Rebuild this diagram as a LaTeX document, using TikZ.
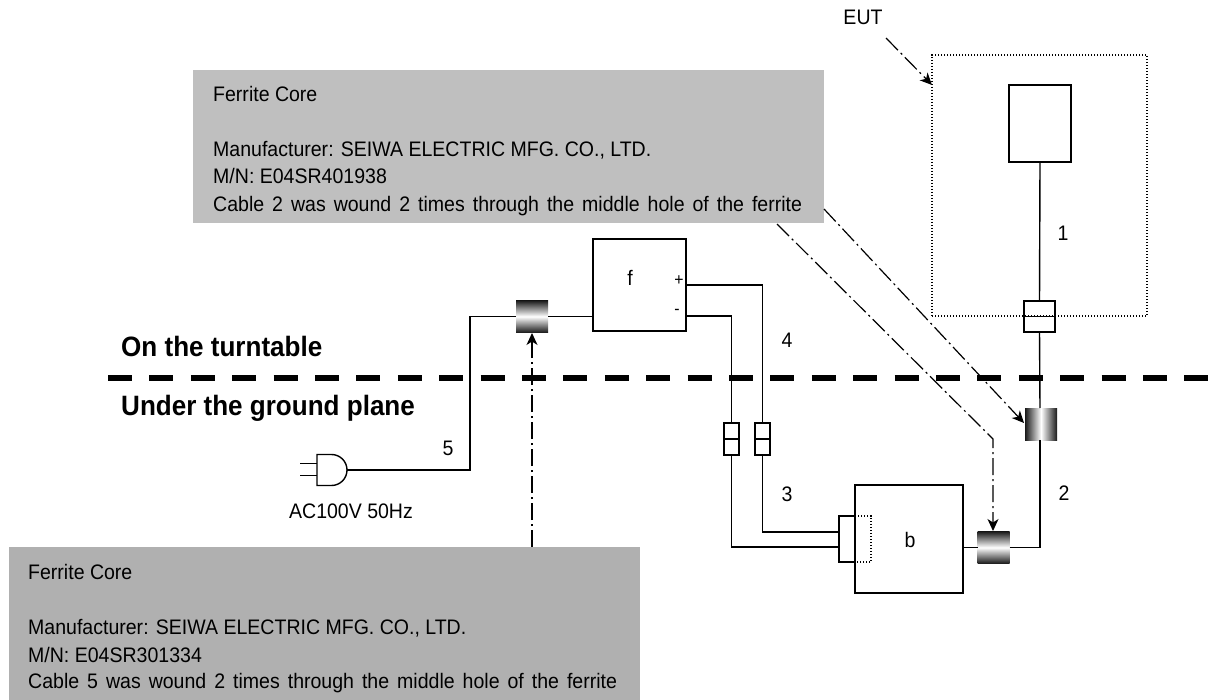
\documentclass[tikz,border=0pt]{standalone}
\usepackage{fontspec}
\setmainfont[FakeStretch=0.93]{Liberation Sans}
\usetikzlibrary{arrows.meta,shadings}
\pgfdeclarehorizontalshading{ferh}{100bp}{color(0bp)=(black!90);color(25bp)=(black!90);color(50bp)=(white);color(75bp)=(black!90);color(100bp)=(black!90)}
\pgfdeclareverticalshading{ferv}{100bp}{color(0bp)=(black!90);color(25bp)=(black!90);color(50bp)=(white);color(75bp)=(black!90);color(100bp)=(black!90)}
\definecolor{grayA}{HTML}{BFBFBF}
\definecolor{grayB}{HTML}{B0B0B0}
\tikzset{
 x=1pt,y=-1pt,
 wire/.style={line width=1.4pt},
 dots/.style={line width=1.4pt,dash pattern=on 1.4pt off 1.6pt},
 box/.style={draw,line width=1.4pt,inner sep=0pt,outer sep=0pt,minimum width=#1},
 lbl/.style={inner sep=0pt,font=\fontsize{21}{21}\selectfont},
 note/.style={inner sep=0pt,anchor=base west,font=\fontsize{21}{21}\selectfont},
 wide/.style={note,execute at begin node={\spaceskip=8pt\relax}},
 head/.style={inner sep=0pt,anchor=base west,font=\fontsize{28}{28}\selectfont\bfseries},
 ptr/.style={line width=1.2pt,dash pattern=on 17pt off 4pt on 2pt off 4pt,-{Stealth[length=12pt,width=11pt,inset=3.5pt]}},
 ferrite/.style={inner sep=0pt,outer sep=0pt,minimum width=32pt,minimum height=32pt,shading=#1},
}
\begin{document}
\begin{tikzpicture}
\useasboundingbox (0,0) rectangle (1215,700);
% grey panels
\node[fill=grayA,inner sep=0pt,minimum width=631pt,minimum height=153pt] (noteA) at (508.5,146.5) {};
\node[fill=grayB,inner sep=0pt,minimum width=631pt,minimum height=153pt] (noteB) at (324.5,623.5) {};
\node[note] (a1) at (213,102) {Ferrite Core};
\node[note] (a2) at (213,157) {Manufacturer: SEIWA ELECTRIC MFG. CO., LTD.};
\node[note] (a3) at (213,184) {M/N: E04SR401938};
\node[wide] (a4) at (213,212) {Cable 2 was wound 2 times through the middle hole of the ferrite};
\node[note] (b1) at (28,579) {Ferrite Core};
\node[note] (b2) at (28,634) {Manufacturer: SEIWA ELECTRIC MFG. CO., LTD.};
\node[note] (b3) at (28,662) {M/N: E04SR301334};
\node[wide] (b4) at (28,688) {Cable 5 was wound 2 times through the middle hole of the ferrite};
% EUT
\node[draw,dots,inner sep=0pt,outer sep=0pt,minimum width=215pt,minimum height=261pt] (eut) at (1039.5,185.5) {};
\node[box=62pt,minimum height=77pt] (unit) at (1040,123.5) {};
\node[box=31pt,minimum height=31pt] (c1) at (1039.5,316.5) {};
\draw[line width=1.4pt] (c1.west) -- (c1.east);
% ferrites
\node[ferrite=ferh] (f2) at (1041,424) {};
\node[ferrite=ferv] (f3) at (993.5,547.5) {};
\node[ferrite=ferv] (f5) at (532,316.5) {};
% equipment
\node[box=93pt,minimum height=92pt] (fbox) at (639.5,285) {};
\node[box=108pt,minimum height=108pt] (bbox) at (909,539) {};
\node[box=16pt,minimum height=46pt] (bplug) at (847,539) {};
\draw[dots] (bplug.north east) -- (871,516) -- (871,562) -- (bplug.south east);
% connectors 3 and 4
\node[box=15pt,minimum height=32pt] (c3) at (731.5,439) {};
\node[box=15pt,minimum height=32pt] (c4) at (762.5,439) {};
\draw[line width=1.4pt] (c3.west) -- (c3.east);
\draw[line width=1.4pt] (c4.west) -- (c4.east);
% wires
\coordinate (plugTail) at (347,470);
\draw[wire] (plugTail) -- (470,470) -- (470,316.5) -- (f5.west);
\draw[wire] (f5.east) -- (fbox.west |- f5.east);
\coordinate (fplus) at (686,285);
\coordinate (fminus) at (686,316);
\draw[wire] (fplus) -- (762.5,285) -- (c4.north);
\draw[wire] (fminus) -- (731.5,316) -- (c3.north);
\coordinate (bin3) at (839,532);
\coordinate (bin4) at (839,547);
\draw[wire] (c4.south) -- (762.5,532) -- (bin3);
\draw[wire] (c3.south) -- (731.5,547) -- (bin4);
\draw[wire] (bbox.east |- f3.west) -- (f3.west);
\coordinate (f2s) at (1040,440);
\coordinate (f2n) at (1040,408);
\draw[wire] (f3.east) -- (1040,547.5) -- (f2s);
\draw[wire] (f2n) -- (c1.south);
\draw[wire] (c1.north) -- (unit.south);
% plug
\draw[line width=1.4pt] (347,470) arc[start angle=0,end angle=-90,radius=15.5] -- (317,454.5) -- (317,485.5) -- (331.5,485.5) arc[start angle=90,end angle=0,radius=15.5];
\draw[wire] (317,463.5) -- (300,463.5) (317,475.5) -- (300,475.5);
% ground line
\coordinate (gl) at (108,378);
\coordinate (gr) at (1212,378);
\draw[line width=5.2pt,dash pattern=on 24pt off 17.4pt] (gl) -- (gr);
% pointers
\coordinate (eutFrom) at (886,38);
\coordinate (eutTip) at (932,85);
\draw[ptr] (eutFrom) -- (eutTip);
\coordinate (pAfrom) at (824,209);
\coordinate (pAtip) at (1024,423);
\draw[ptr] (pAfrom) -- (pAtip);
\coordinate (pBfrom) at (777,224);
\coordinate (pBbend) at (993,439);
\coordinate (pBtip) at (993,531);
\draw[ptr] (pBfrom) -- (pBbend) -- (pBtip);
\coordinate (pCfrom) at (532,547);
\coordinate (pCtip) at (532,333);
\draw[ptr] (pCfrom) -- (pCtip);
% labels
\node[lbl] (l1) at (1063,233) {1};
\node[lbl] (l2) at (1064,493) {2};
\node[lbl] (l3) at (787,494) {3};
\node[lbl] (l4) at (787,340) {4};
\node[lbl] (l5) at (448,448) {5};
\node[lbl] (lf) at (630,278) {f};
\node[lbl,font=\fontsize{17}{17}\selectfont] (lp) at (679,281) {+};
\node[lbl,font=\fontsize{17}{17}\selectfont] (lm) at (677,312) {-};
\node[lbl] (lb) at (910,540) {b};
\node[lbl,anchor=base] (lac) at (351,518) {AC100V 50Hz};
\node[lbl] (leut) at (863,17) {EUT};
\node[head] (h1) at (121,356) {On the turntable};
\node[head] (h2) at (121,415) {Under the ground plane};
\end{tikzpicture}
\end{document}
